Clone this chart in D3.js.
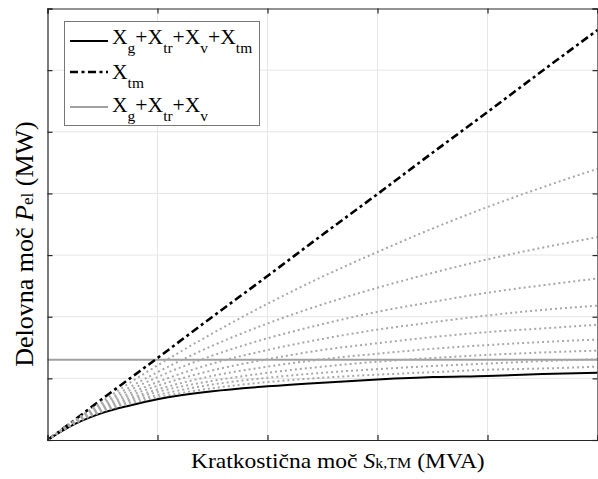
<!DOCTYPE html>
<html>
<head>
<meta charset="utf-8">
<script src="https://cdn.jsdelivr.net/npm/d3@7"></script>
<style>
  html, body { margin: 0; padding: 0; background: #fff; }
  svg { display: block; font-family: "Liberation Serif", "Times New Roman", serif; }
</style>
</head>
<body>
<svg id="chart" width="598" height="479"></svg>
<script>
// Short-circuit power S_k,TM (relative units) sampled along the x axis
const sk = [0, 0.25, 0.5, 0.75, 1, 1.5, 2, 2.5, 3, 3.5, 4, 4.5, 5];

// Active power with the full reactance chain Xg+Xtr+Xv+Xtm
const pTotal = [0, 0.26, 0.44, 0.56, 0.66, 0.79, 0.87, 0.93, 0.98, 1.02, 1.04, 1.07, 1.09];
// Active power limited by Xtm only
const pTm = [0, 0.33, 0.67, 1.00, 1.33, 2.00, 2.66, 3.33, 3.99, 4.66, 5.32, 5.99, 6.65];
// Active power limited by Xg+Xtr+Xv only (independent of S_k,TM)
const pGen = [1.30, 1.30, 1.30, 1.30, 1.30, 1.30, 1.30, 1.30, 1.30, 1.30, 1.30, 1.30, 1.30];

// Family of curves for a reduced Xg+Xtr+Xv (90 % ... 10 %)
const pReduced = [
  [0, 0.27, 0.46, 0.59, 0.69, 0.84, 0.94, 1.01, 1.06, 1.10, 1.14, 1.16, 1.19],
  [0, 0.28, 0.47, 0.62, 0.73, 0.90, 1.01, 1.09, 1.15, 1.20, 1.24, 1.28, 1.31],
  [0, 0.28, 0.49, 0.65, 0.78, 0.96, 1.09, 1.19, 1.27, 1.33, 1.38, 1.42, 1.45],
  [0, 0.29, 0.51, 0.68, 0.82, 1.04, 1.19, 1.31, 1.40, 1.48, 1.54, 1.59, 1.63],
  [0, 0.29, 0.53, 0.72, 0.88, 1.13, 1.31, 1.46, 1.57, 1.67, 1.75, 1.81, 1.87],
  [0, 0.30, 0.55, 0.76, 0.94, 1.24, 1.46, 1.64, 1.79, 1.91, 2.02, 2.11, 2.18],
  [0, 0.31, 0.58, 0.81, 1.02, 1.37, 1.65, 1.88, 2.08, 2.24, 2.39, 2.51, 2.62],
  [0, 0.32, 0.60, 0.86, 1.10, 1.53, 1.89, 2.20, 2.47, 2.71, 2.93, 3.12, 3.29],
  [0, 0.32, 0.63, 0.93, 1.21, 1.73, 2.21, 2.65, 3.05, 3.43, 3.78, 4.10, 4.40]
];

// Tick positions (axes carry no numeric labels)
const xTicks = [0, 1, 2, 3, 4, 5];
const yTicks = [0, 1, 2, 3, 4, 5, 6, 7];

// Legend entries: pieces of text, subscript pieces flagged
const legendEntries = [
  { key: "total", parts: [["X", 0], ["g", 1], ["+X", 0], ["tr", 1], ["+X", 0], ["v", 1], ["+X", 0], ["tm", 1]] },
  { key: "tm",    parts: [["X", 0], ["tm", 1]] },
  { key: "gen",   parts: [["X", 0], ["g", 1], ["+X", 0], ["tr", 1], ["+X", 0], ["v", 1]] }
];

const styles = {
  total: { stroke: "#000", width: 2, dash: null },
  tm:    { stroke: "#000", width: 2.6, dash: "8,3.5,3,3.5" },
  gen:   { stroke: "#a0a0a0", width: 2, dash: null },
  reduced: { stroke: "#a8a8a8", width: 2, dash: "2,3" }
};

const svg = d3.select("#chart");
const m = { left: 47.5, right: 597.5, top: 8.5, bottom: 440 };

const x = d3.scaleLinear().domain([0, 5]).range([m.left, m.right]);
const y = d3.scaleLinear().domain([0, 7]).range([m.bottom, m.top]);

// grid
const grid = svg.append("g");
grid.selectAll("line.gx").data(xTicks.slice(1, -1)).join("line")
  .attr("x1", d => x(d)).attr("x2", d => x(d))
  .attr("y1", m.top).attr("y2", m.bottom)
  .attr("stroke", "#e6e6e6").attr("stroke-width", 1);
grid.selectAll("line.gy").data(yTicks.slice(1, -1)).join("line")
  .attr("y1", d => y(d)).attr("y2", d => y(d))
  .attr("x1", m.left).attr("x2", m.right)
  .attr("stroke", "#e6e6e6").attr("stroke-width", 1);

// curves
const line = d3.line().x((d, i) => x(sk[i])).y(d => y(d)).curve(d3.curveMonotoneX);
const plot = svg.append("g");

function draw(values, st) {
  const p = plot.append("path").datum(values)
    .attr("d", line)
    .attr("fill", "none")
    .attr("stroke", st.stroke)
    .attr("stroke-width", st.width);
  if (st.dash) p.attr("stroke-dasharray", st.dash);
  return p;
}
draw(pGen, styles.gen);
draw(pTotal, styles.total);
draw(pTm, styles.tm);
pReduced.forEach(v => draw(v, styles.reduced));

// axes with inward ticks, no labels
const tickLen = 5;
const axisColor = "#262626";
const axBottom = d3.axisBottom(x).tickValues(xTicks).tickSize(-tickLen).tickFormat("");
const axTop = d3.axisTop(x).tickValues(xTicks).tickSize(-tickLen).tickFormat("");
const axLeft = d3.axisLeft(y).tickValues(yTicks).tickSize(-tickLen).tickFormat("");
const axRight = d3.axisRight(y).tickValues(yTicks).tickSize(-tickLen).tickFormat("");

[[axBottom, `translate(0,${m.bottom})`], [axTop, `translate(0,${m.top})`],
 [axLeft, `translate(${m.left},0)`], [axRight, `translate(${m.right},0)`]].forEach(([ax, t]) => {
  const g = svg.append("g").attr("transform", t).call(ax);
  g.select(".domain").attr("stroke", axisColor).attr("stroke-width", 1.2);
  g.selectAll(".tick line").attr("stroke", axisColor).attr("stroke-width", 1.2);
});

// legend
const lg = svg.append("g");
lg.append("rect")
  .attr("x", 64.5).attr("y", 21.5).attr("width", 195).attr("height", 104)
  .attr("fill", "#fff").attr("stroke", "#777").attr("stroke-width", 1);
const rowY = [41, 72, 107];
const textY = [43.5, 78.5, 112];
legendEntries.forEach((e, i) => {
  const st = styles[e.key];
  const l = lg.append("line")
    .attr("x1", 70).attr("x2", 108).attr("y1", rowY[i]).attr("y2", rowY[i])
    .attr("stroke", st.stroke).attr("stroke-width", st.width);
  if (st.dash) l.attr("stroke-dasharray", st.dash);
  const t = lg.append("text")
    .attr("transform", `translate(112,${textY[i]}) scale(1.03,1)`)
    .attr("font-size", 21).attr("fill", "#000");
  let sub = false;
  e.parts.forEach(([s, isSub]) => {
    const ts = t.append("tspan").text(s);
    if (isSub && !sub) { ts.attr("dy", 9).attr("font-size", 15); sub = true; }
    else if (isSub) { ts.attr("font-size", 15); }
    else if (sub) { ts.attr("dy", -9); sub = false; }
  });
});

// axis titles
const xt = svg.append("text")
  .attr("transform", "translate(191,468) scale(1.07,1)")
  .attr("font-size", 22).attr("fill", "#000");
xt.append("tspan").text("Kratkostična moč ");
xt.append("tspan").text("S").attr("font-style", "italic");
xt.append("tspan").text("k,TM").attr("font-size", 15);
xt.append("tspan").text(" (MVA)");

const yt = svg.append("text")
  .attr("transform", "translate(33,244) rotate(-90)")
  .attr("text-anchor", "middle").attr("font-size", 26).attr("fill", "#000");
yt.append("tspan").text("Delovna moč ");
yt.append("tspan").text("P").attr("font-style", "italic");
yt.append("tspan").text("el").attr("font-size", 17);
yt.append("tspan").text(" (MW)");
</script>
</body>
</html>
